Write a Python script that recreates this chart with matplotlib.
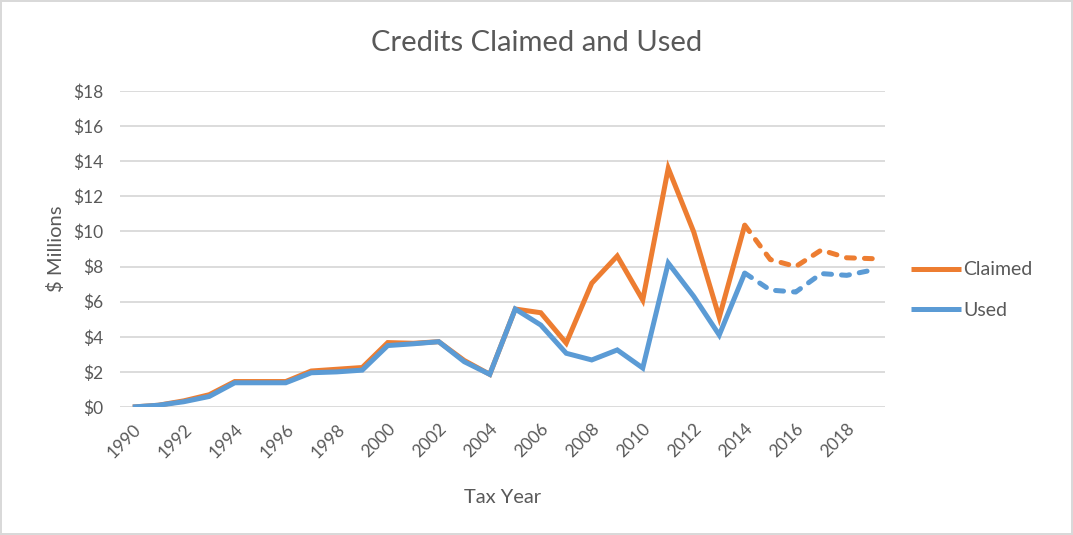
import matplotlib
matplotlib.use("Agg")
import matplotlib.pyplot as plt
from matplotlib.ticker import FuncFormatter

plt.rcParams['font.family'] = ['Lato', 'DejaVu Sans']

# values ($ millions)
years = list(range(1990, 2020))
claimed = [0.0, 0.1, 0.35, 0.7, 1.45, 1.45, 1.45, 2.05, 2.15, 2.25, 3.67, 3.63, 3.72, 2.65, 1.86,
           5.58, 5.37, 3.64, 7.05, 8.6, 6.09, 13.6, 9.97, 5.1, 10.36, 8.4, 8.0, 8.94, 8.5, 8.45]
used = [0.0, 0.1, 0.3, 0.6, 1.38, 1.38, 1.38, 1.95, 2.0, 2.1, 3.5, 3.6, 3.72, 2.58, 1.86,
        5.58, 4.67, 3.06, 2.68, 3.25, 2.22, 8.2, 6.3, 4.1, 7.63, 6.66, 6.55, 7.6, 7.5, 7.8]
last_actual = 2014
series_names = ["Claimed", "Used"]
series_colors = ["#ED7D31", "#5B9BD5"]
x_ticks = list(range(1990, 2020, 2))
y_ticks = list(range(0, 20, 2))

txt = "#595959"
grid_c = "#D9D9D9"
lw = 3.6

fig = plt.figure(figsize=(10.73, 5.35), dpi=100)
fig.patch.set_edgecolor(grid_c)
fig.patch.set_linewidth(1.5)
ax = fig.add_axes([120 / 1073, 1 - 407 / 535, 765 / 1073, 316 / 535])

cut = years.index(last_actual)
for name, vals, col in zip(series_names, [claimed, used], series_colors):
    ax.plot(years[:cut + 1], vals[:cut + 1], color=col, lw=lw, label=name,
            solid_joinstyle="miter", solid_capstyle="butt")
    ax.plot(years[cut:], vals[cut:], color=col, lw=lw, linestyle=(0, (1.6, 2.0)),
            dash_capstyle="round")

ax.set_xlim(1989.5, 2019.5)
ax.set_ylim(0, 18)
ax.set_yticks(y_ticks)
ax.yaxis.set_major_formatter(FuncFormatter(lambda v, p: f"${int(v)}"))
ax.set_xticks(x_ticks)
ax.set_xticklabels([str(y) for y in x_ticks], rotation=45, ha="right", rotation_mode="anchor")
ax.grid(axis="y", color=grid_c, lw=1.3)
ax.set_axisbelow(True)
for s in ax.spines.values():
    s.set_visible(False)
ax.tick_params(axis="both", length=0, colors=txt, labelsize=12.5)
ax.tick_params(axis="y", pad=12)
ax.tick_params(axis="x", pad=10)

ax.set_xlabel("Tax Year", fontsize=14.5, color=txt, labelpad=20)
ax.set_ylabel("$ Millions", fontsize=14.5, color=txt, labelpad=6)
fig.text(537 / 1073, 1 - 43 / 535, "Credits Claimed and Used", fontsize=21, color=txt,
         ha="center", va="center")

leg = ax.legend(loc="center left", bbox_to_anchor=(893 / 1073, 1 - 290 / 535),
                bbox_transform=fig.transFigure, frameon=False, fontsize=14,
                handlelength=2.6, handletextpad=0.1, labelspacing=1.2)
for t in leg.get_texts():
    t.set_color(txt)

fig.savefig("out.png", dpi=100, edgecolor=fig.get_edgecolor())
